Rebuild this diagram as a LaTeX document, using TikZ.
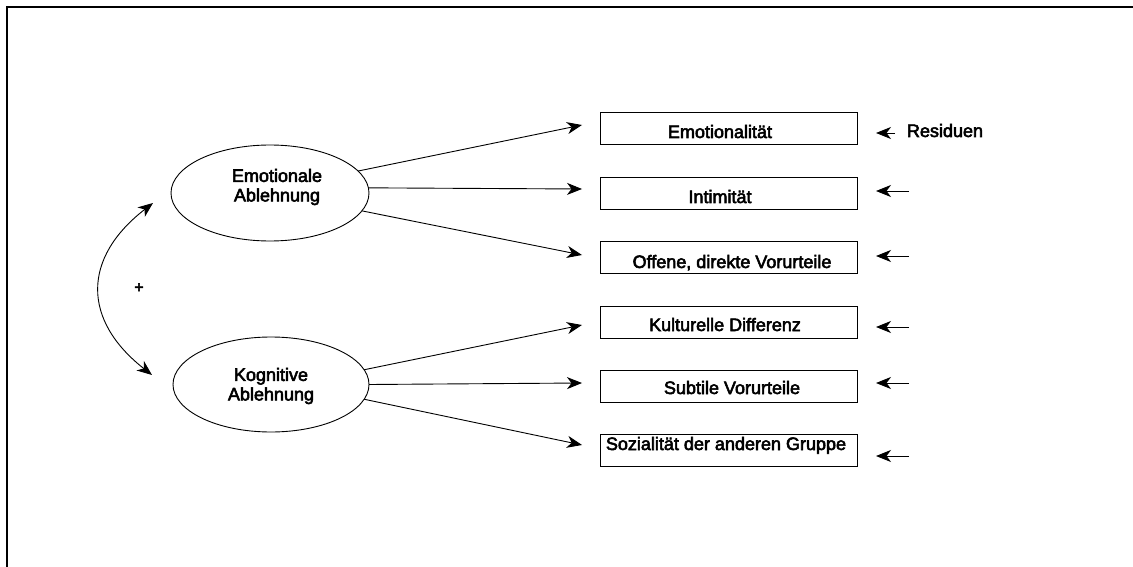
\documentclass[tikz,border=0pt]{standalone}
\usepackage{fontspec}
\setmainfont{Liberation Sans}[BoldFont=Liberation Sans, BoldFeatures={FakeBold=3}]
\usetikzlibrary{arrows.meta,shapes.geometric}
\begin{document}
\begin{tikzpicture}[x=1pt,y=-1pt,
  every node/.style={inner sep=0pt, outer sep=0pt},
  latent/.style={draw, ellipse, line width=0.9pt, minimum width=198pt, minimum height=96pt},
  obsbox/.style={draw, line width=0.9pt, minimum width=257pt, minimum height=32pt},
  lbl/.style={font=\fontsize{18}{19.5}\selectfont\bfseries, anchor=base},
  latlbl/.style={font=\fontsize{18}{19.5}\selectfont\bfseries, align=center},
  tip/.tip={Stealth[length=15pt,width=12pt,inset=4.5pt]},
  arr/.style={line width=0.9pt, -tip},
  dblarr/.style={line width=0.9pt, tip-tip}
]
\useasboundingbox (0,0) rectangle (1133,567);
% frame
\draw[line width=1.5pt] (7,567) -- (7,7) -- (1133,7);

% latent variables
\node[latent] (e1) at (270,193) {};
\node[latlbl] (t1) at (277,187) {Emotionale\\Ablehnung};
\node[latent, minimum width=196pt, minimum height=95pt] (e2) at (271,384.5) {};
\node[latlbl] (t2) at (271,386) {Kognitive\\Ablehnung};

% observed variables
\node[obsbox] (b1) at (728.5,128.5) {};
\node[obsbox] (b2) at (728.5,193) {};
\node[obsbox] (b3) at (728.5,257.5) {};
\node[obsbox] (b4) at (728.5,322) {};
\node[obsbox] (b5) at (728.5,386) {};
\node[obsbox] (b6) at (728.5,450.5) {};

\node[lbl] (l1) at (720,138) {Emotionalität};
\node[lbl] (l2) at (720,203) {Intimität};
\node[lbl] (l3) at (732,268) {Offene, direkte Vorurteile};
\node[lbl] (l4) at (725,331) {Kulturelle Differenz};
\node[lbl] (l5) at (732,394) {Subtile Vorurteile};
\node[lbl] (l6) at (726,450) {Sozialität der anderen Gruppe};

\node[lbl] (res) at (945,137) {Residuen};

% loadings
\draw[arr] (e1.14) -- ([shift={(-18,-3.5)}]b1.west);
\draw[arr] (e1.3) -- ([shift={(-18,-4)}]b2.west);
\draw[arr] (e1.-11) -- ([shift={(-18,-2.5)}]b3.west);
\draw[arr] (e2.9) -- ([shift={(-18,3)}]b4.west);
\draw[arr] (e2.0) -- ([shift={(-18,-3)}]b5.west);
\draw[arr] (e2.-9.5) -- ([shift={(-18,-5.5)}]b6.west);

% residuals
\coordinate (r1) at (895,133);
\coordinate (r2) at (909,191);
\coordinate (r3) at (909,256);
\coordinate (r4) at (909,327);
\coordinate (r5) at (909,383);
\coordinate (r6) at (909,456);
\draw[arr] (r1) -- ([shift={(19,4.5)}]b1.east);
\draw[arr] (r2) -- ([shift={(19,-2)}]b2.east);
\draw[arr] (r3) -- ([shift={(19,-1.5)}]b3.east);
\draw[arr] (r4) -- ([shift={(19,5)}]b4.east);
\draw[arr] (r5) -- ([shift={(19,-3)}]b5.east);
\draw[arr] (r6) -- ([shift={(19,5.5)}]b6.east);

% correlation
\draw[dblarr] ([shift={(-18,10)}]e1.west) .. controls (82,258) and (82,320) .. ([shift={(-21,-9.5)}]e2.west);
\node[font=\fontsize{16}{16}\selectfont\bfseries] (plus) at (139,288) {+};
\end{tikzpicture}
\end{document}
